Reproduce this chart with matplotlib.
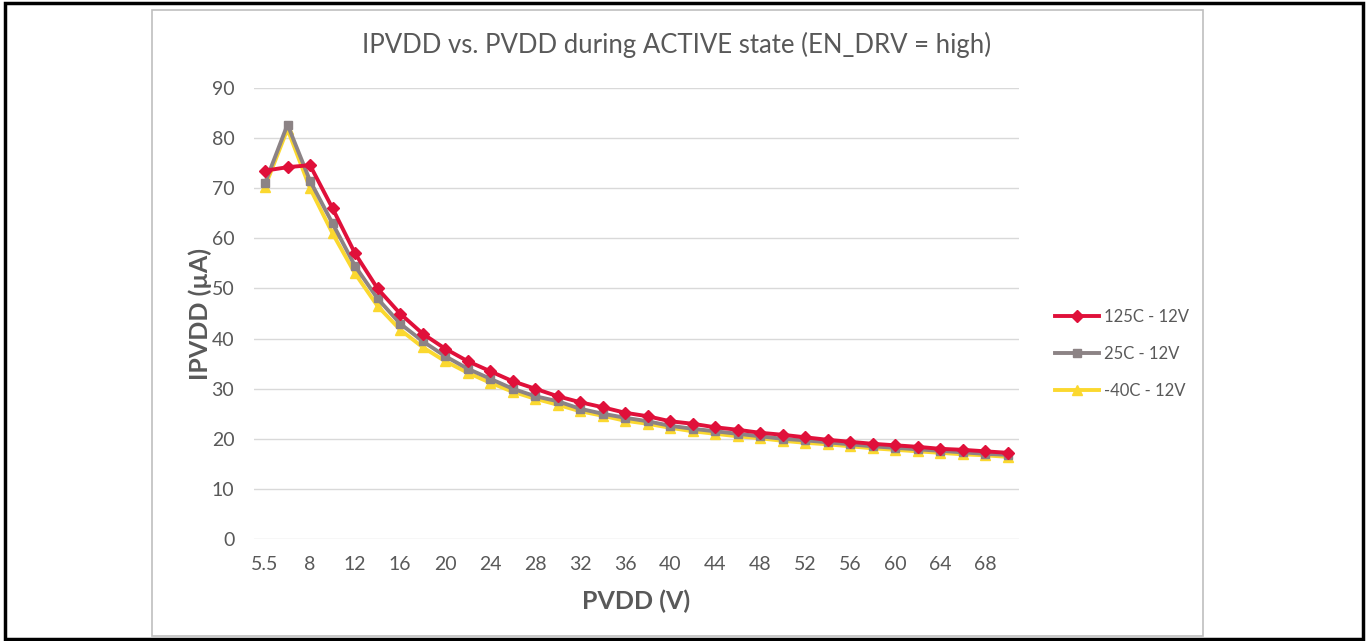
import matplotlib
matplotlib.use("Agg")
import matplotlib.pyplot as plt
from matplotlib.patches import Rectangle

pvdd = ["5.5", "7", "8"] + [str(v) for v in range(10, 71, 2)]
i_125 = [73.5, 74.2, 74.6, 66, 57, 50, 45, 41, 38, 35.5, 33.5, 31.5, 30, 28.5, 27.3, 26.3,
         25.2, 24.5, 23.5, 23, 22.3, 21.8, 21.2, 20.8, 20.3, 19.8, 19.4, 19, 18.7, 18.4,
         18, 17.8, 17.5, 17.2]
i_25 = [71, 82.7, 71.5, 63, 54.5, 48, 43, 39.5, 36.5, 34, 32, 30, 28.5, 27.5, 26, 25,
        24.2, 23.5, 22.6, 22, 21.5, 21, 20.5, 20, 19.7, 19.3, 18.9, 18.5, 18.2, 17.9,
        17.6, 17.3, 17, 16.8]
i_m40 = [70.3, 81.8, 70, 61, 53, 46.5, 41.8, 38.3, 35.5, 33.2, 31.2, 29.4, 28, 26.8,
         25.5, 24.6, 23.6, 23, 22.2, 21.5, 21, 20.5, 20.1, 19.6, 19.2, 18.9, 18.5, 18.1,
         17.8, 17.5, 17.2, 16.9, 16.7, 16.4]
series_labels = ["125C - 12V", "25C - 12V", "-40C - 12V"]
yticks = list(range(0, 91, 10))

plt.rcParams['font.family'] = ['Lato', 'DejaVu Sans']
W, H = 1368, 641
fig = plt.figure(figsize=(W / 100, H / 100), dpi=100)

# outer black frame and inner gray chart border
fig.patches.append(Rectangle((5 / W, 2 / H), 1358 / W, 636 / H, transform=fig.transFigure,
                             fill=False, edgecolor='black', linewidth=2.5))
fig.patches.append(Rectangle((152 / W, 5 / H), 1051 / W, 626 / H, transform=fig.transFigure,
                             fill=False, edgecolor='#bfbfbf', linewidth=1.2))

ax = fig.add_axes([253.75 / W, 1 - 539 / H, (1018.75 - 253.75) / W, (539 - 88) / H])
x = list(range(len(pvdd)))
ax.plot(x, i_125, color='#e0103a', lw=2.8, marker='D', ms=6, label=series_labels[0], zorder=5)
ax.plot(x, i_25, color='#8c8385', lw=2.8, marker='s', ms=6, label=series_labels[1], zorder=4)
ax.plot(x, i_m40, color='#fbd82f', lw=2.8, marker='^', ms=7, label=series_labels[2], zorder=3)

ax.set_xlim(-0.5, len(pvdd) - 0.5)
ax.set_ylim(0, 90)
ax.set_yticks(yticks)
ax.set_xticks(x[::2])
ax.set_xticklabels(pvdd[::2])
ax.grid(axis='y', color='#d9d9d9', lw=1)
ax.set_axisbelow(True)
for s in ax.spines.values():
    s.set_visible(False)
ax.tick_params(length=0, labelsize=14, colors='#595959', pad=12)
ax.tick_params(axis='y', pad=14)

ax.set_xlabel("PVDD (V)", fontsize=18, fontweight='bold', color='#595959', labelpad=12)
ax.set_ylabel("IPVDD (µA)", fontsize=18, fontweight='bold', color='#595959', labelpad=0)
fig.text(677 / W, 1 - 45 / H, "IPVDD vs. PVDD during ACTIVE state (EN_DRV = high)",
         ha='center', va='center', fontsize=18.5, color='#595959')

leg = ax.legend(loc='center left', bbox_to_anchor=(1.028, 0.41), frameon=False,
                fontsize=12, labelcolor='#595959', handlelength=2.6, labelspacing=1.25,
                handletextpad=0.3)

fig.savefig("out.png", dpi=100, facecolor='white')
